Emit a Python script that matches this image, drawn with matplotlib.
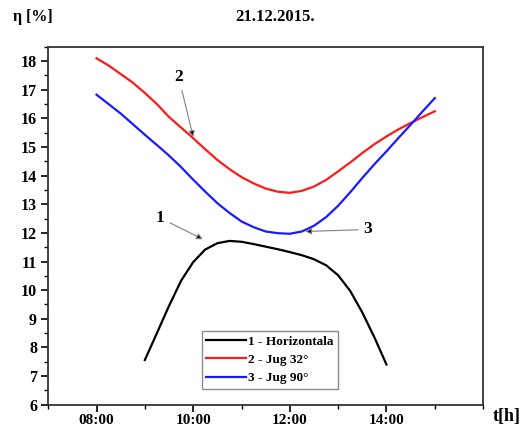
import numpy as np
import matplotlib
matplotlib.use("Agg")
import matplotlib.pyplot as plt
from matplotlib.ticker import MultipleLocator

# hours (decimal) and efficiency [%]
t_hor = [9.0, 9.25, 9.5, 9.75, 10.0, 10.25, 10.5, 10.75, 11.0, 11.25, 11.5, 11.75,
         12.0, 12.25, 12.5, 12.75, 13.0, 13.25, 13.5, 13.75, 14.0]
eta_hor = [7.56, 8.5, 9.45, 10.33, 10.98, 11.42, 11.64, 11.72, 11.69, 11.61, 11.52, 11.43,
           11.33, 11.22, 11.08, 10.87, 10.52, 9.97, 9.22, 8.35, 7.4]

t_jug = [8.0, 8.25, 8.5, 8.75, 9.0, 9.25, 9.5, 9.75, 10.0, 10.25, 10.5, 10.75,
         11.0, 11.25, 11.5, 11.75, 12.0, 12.25, 12.5, 12.75, 13.0, 13.25,
         13.5, 13.75, 14.0, 14.25, 14.5, 14.75, 15.0]
eta_jug32 = [18.1, 17.85, 17.55, 17.25, 16.89, 16.5, 16.05, 15.68, 15.31, 14.92, 14.55, 14.23,
             13.95, 13.73, 13.55, 13.44, 13.4, 13.47, 13.62, 13.85, 14.15, 14.46,
             14.79, 15.1, 15.37, 15.62, 15.84, 16.05, 16.25]
eta_jug90 = [16.83, 16.5, 16.17, 15.8, 15.43, 15.07, 14.7, 14.3, 13.86, 13.44, 13.04, 12.7,
             12.4, 12.2, 12.05, 11.99, 11.97, 12.05, 12.25, 12.55, 12.95, 13.42,
             13.92, 14.4, 14.85, 15.32, 15.78, 16.25, 16.71]

labels = ["1 - Horizontala", "2 - Jug 32°", "3 - Jug 90°"]
xticks = [8, 10, 12, 14]
xticklabels = ["08:00", "10:00", "12:00", "14:00"]

plt.rcParams['font.family'] = ['Liberation Serif', 'DejaVu Serif']
plt.rcParams['font.weight'] = 'bold'

fig = plt.figure(figsize=(5.24, 4.30), dpi=100)
ax = fig.add_axes([0.092, 0.059, 0.830, 0.832])

ax.plot(t_hor, eta_hor, color='black', lw=1.6, label=labels[0], solid_joinstyle='round')
ax.plot(t_jug, eta_jug32, color='#ff1a1a', lw=1.6, label=labels[1], solid_joinstyle='round')
ax.plot(t_jug, eta_jug90, color='#1a1aff', lw=1.6, label=labels[2], solid_joinstyle='round')

ax.set_xlim(7, 16)
ax.set_ylim(6, 18.5)
ax.set_xticks(xticks)
ax.set_xticklabels(xticklabels)
ax.xaxis.set_minor_locator(MultipleLocator(1))
ax.yaxis.set_major_locator(MultipleLocator(1))
ax.yaxis.set_minor_locator(MultipleLocator(0.5))
ax.tick_params(which='major', direction='out', length=5, width=1.2, labelsize=11.5, pad=3)
ax.tick_params(axis='x', which='major', labelsize=11, pad=1.5)
ax.tick_params(which='minor', direction='out', length=3, width=1.0)
for lab in ax.get_xticklabels() + ax.get_yticklabels():
    lab.set_fontweight('bold')
for sp in ax.spines.values():
    sp.set_linewidth(1.3)
    sp.set_color('#333333')

fig.text(0.025, 0.96, "η [%]", fontsize=11.5, fontweight='bold', va='center', ha='left')
fig.text(0.525, 0.96, "21.12.2015.", fontsize=12, fontweight='bold', va='center', ha='center')
fig.text(0.94, 0.032, "t[h]", fontsize=13, fontweight='bold', va='center', ha='left')

arrow = dict(arrowstyle='-|>', color='0.5', fc='black', lw=0.8, mutation_scale=9,
             shrinkA=2, shrinkB=0)
ax.annotate("2", xy=(10.0, 15.35), xytext=(9.7, 17.45), fontsize=12.5, fontweight='bold',
            ha='center', va='center', arrowprops=arrow)
ax.annotate("1", xy=(10.2, 11.78), xytext=(9.32, 12.52), fontsize=12.5, fontweight='bold',
            ha='center', va='center', arrowprops=arrow)
ax.annotate("3", xy=(12.32, 12.05), xytext=(13.62, 12.12), fontsize=12.5, fontweight='bold',
            ha='center', va='center', arrowprops=arrow)

leg = ax.legend(loc='center', bbox_to_anchor=(0.51, 0.125),
                prop={'weight': 'bold', 'size': 9.5}, fancybox=False, framealpha=1,
                edgecolor='0.55', handlelength=3.0, handletextpad=0.2,
                labelspacing=0.45, borderpad=0.35, borderaxespad=0)
leg.get_frame().set_linewidth(1.0)

fig.savefig("out.png", dpi=100)
